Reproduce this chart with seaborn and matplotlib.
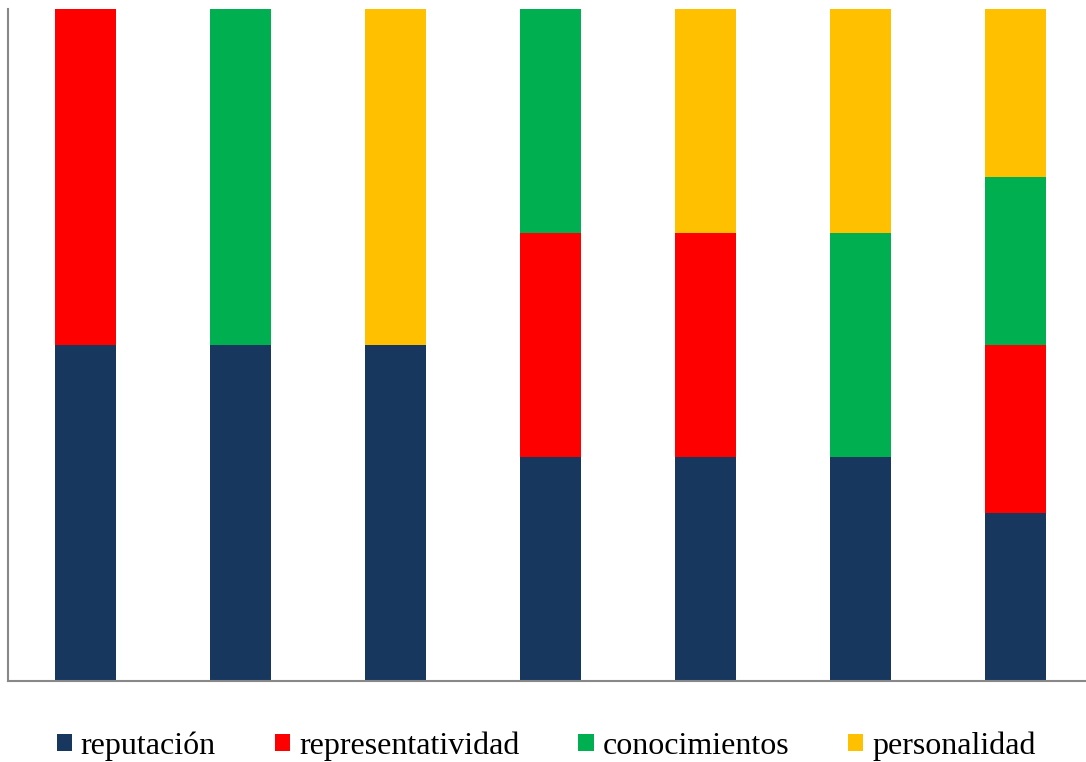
import matplotlib
matplotlib.use("Agg")
import matplotlib.pyplot as plt
from matplotlib.patches import Patch
import numpy as np
import pandas as pd
import seaborn as sns

categories = ["A", "B", "C", "D", "E", "F", "G"]
series = ["reputación", "representatividad", "conocimientos", "personalidad"]
reputacion = [50, 50, 50, 33.33, 33.33, 33.33, 25]
representatividad = [50, 0, 0, 33.33, 33.33, 0, 25]
conocimientos = [0, 50, 0, 33.33, 0, 33.33, 25]
personalidad = [0, 0, 50, 0, 33.33, 33.33, 25]
colors = ["#17375E", "#FF0000", "#00B050", "#FFC000"]

values = np.array([reputacion, representatividad, conocimientos, personalidad])
cumulative = values.cumsum(axis=0)

sns.set_theme(style="white")
plt.rcParams["font.family"] = ["Liberation Serif", "DejaVu Serif"]

fig = plt.figure(figsize=(10.86, 7.62), dpi=100)
ax = fig.add_axes([8 / 1086, 81 / 762, 1078 / 1086, 672 / 762])

# draw cumulative totals from the top layer down so each stack segment shows
for i in range(len(series) - 1, -1, -1):
    df = pd.DataFrame({"cat": categories, "total": cumulative[i]})
    sns.barplot(data=df, x="cat", y="total", color=colors[i], width=0.395,
                saturation=1, ax=ax, linewidth=0)

ax.set_xlim(-0.5, 6.455)
ax.set_ylim(0, 100)
ax.set_xlabel("")
ax.set_ylabel("")
ax.set_xticks([])
ax.set_yticks([])
for side in ["top", "right"]:
    ax.spines[side].set_visible(False)
for side in ["left", "bottom"]:
    ax.spines[side].set_color("#888888")
    ax.spines[side].set_linewidth(1.5)

handles = [Patch(facecolor=c, edgecolor="none", label=s) for s, c in zip(series, colors)]
fig.legend(handles=handles, loc="center", bbox_to_anchor=(0.503, 0.021), ncol=4,
           frameon=False, fontsize=23, handlelength=0.47, handleheight=0.47,
           handletextpad=0.28, columnspacing=1.85, labelcolor="black")

fig.savefig("out.png", dpi=100)
